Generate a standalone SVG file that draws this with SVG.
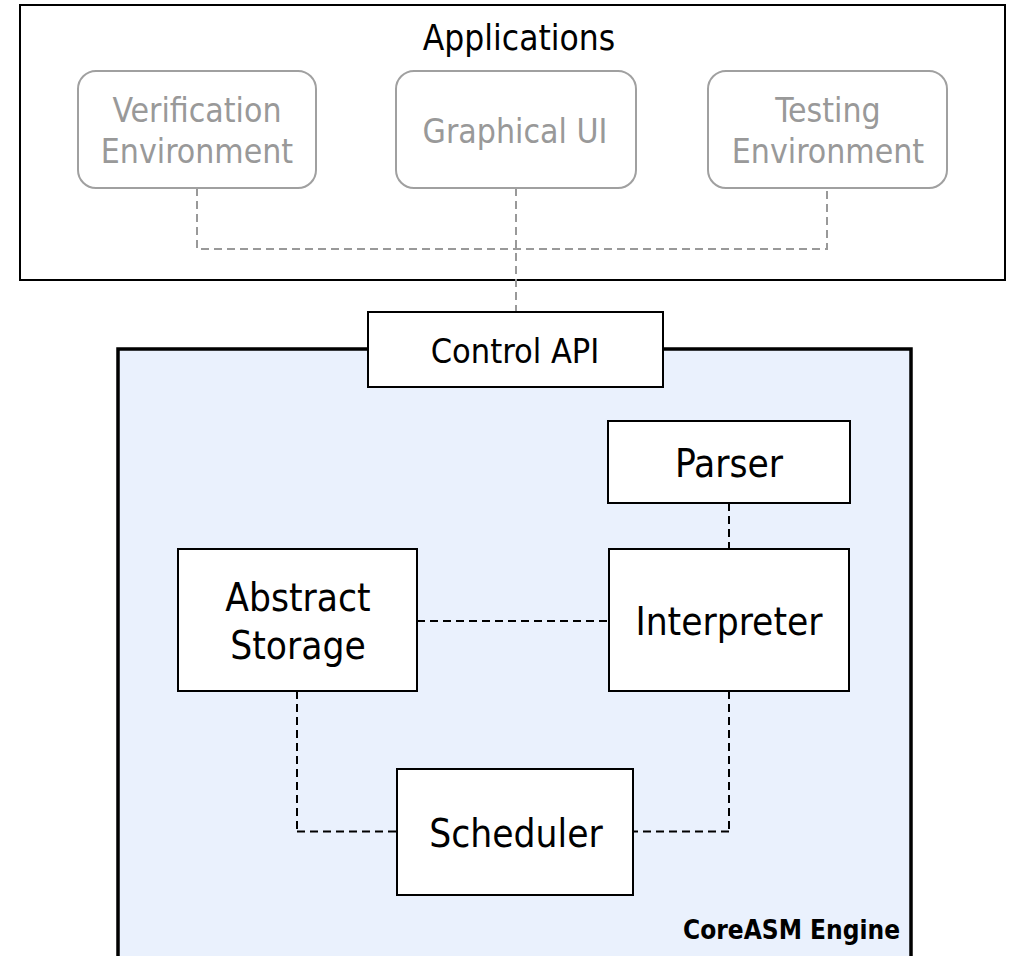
<svg xmlns="http://www.w3.org/2000/svg" width="1012" height="956" viewBox="0 0 1012 956">
<style>
text{font-family:"DejaVu Sans Condensed","Liberation Sans",sans-serif;text-anchor:middle}
.app rect{fill:#fff;stroke:#a0a0a0;stroke-width:2}
.app text{fill:#999;font-size:33.5px}
.node rect{fill:#fff;stroke:#000;stroke-width:2}
.node text{fill:#000;font-size:38.5px}
.gd{fill:none;stroke:#999;stroke-width:2;stroke-dasharray:8 5}
.bd{fill:none;stroke:#000;stroke-width:2;stroke-dasharray:8 5}
</style>
<g id="applications">
<rect x="20" y="5" width="985" height="275" fill="#fff" stroke="#000" stroke-width="2"/>
<text x="519" y="50" font-size="35">Applications</text>
</g>
<g id="engine">
<rect x="118" y="349" width="793" height="630" fill="#eaf1fd" stroke="#000" stroke-width="3.5"/>
<text x="900" y="939" font-size="26" font-weight="bold" style="text-anchor:end">CoreASM Engine</text>
</g>
<g id="connectors">
<path class="gd" d="M197 188V249H827V188"/>
<path class="gd" stroke-width="1.5" d="M516 188V312"/>
<path class="bd" d="M729 503V549"/>
<path class="bd" stroke-width="1.5" d="M417 621H609"/>
<path class="bd" d="M297 691V831.5"/>
<path class="bd" stroke-width="1.5" d="M297 831.5H397"/>
<path class="bd" d="M729 691V831.5"/>
<path class="bd" stroke-width="1.5" d="M729 831.5H633"/>
</g>
<g id="verification" class="app">
<rect x="78" y="71" width="238" height="117" rx="18"/>
<text x="197" y="122">Verification</text>
<text x="197" y="163">Environment</text>
</g>
<g id="gui" class="app">
<rect x="396" y="71" width="240" height="117" rx="18"/>
<text x="515" y="143">Graphical UI</text>
</g>
<g id="testing" class="app">
<rect x="708" y="71" width="239" height="117" rx="18"/>
<text x="828" y="122">Testing</text>
<text x="828" y="163">Environment</text>
</g>
<g id="control-api" class="node">
<rect x="368" y="312" width="295" height="75"/>
<text x="515" y="363" font-size="34" style="font-size:34px">Control API</text>
</g>
<g id="parser" class="node">
<rect x="608" y="421" width="242" height="82"/>
<text x="729" y="477">Parser</text>
</g>
<g id="interpreter" class="node">
<rect x="609" y="549" width="240" height="142"/>
<text x="729" y="635">Interpreter</text>
</g>
<g id="storage" class="node">
<rect x="178" y="549" width="239" height="142"/>
<text x="298" y="611">Abstract</text>
<text x="298" y="659">Storage</text>
</g>
<g id="scheduler" class="node">
<rect x="397" y="769" width="236" height="126"/>
<text x="516" y="847">Scheduler</text>
</g>
</svg>
